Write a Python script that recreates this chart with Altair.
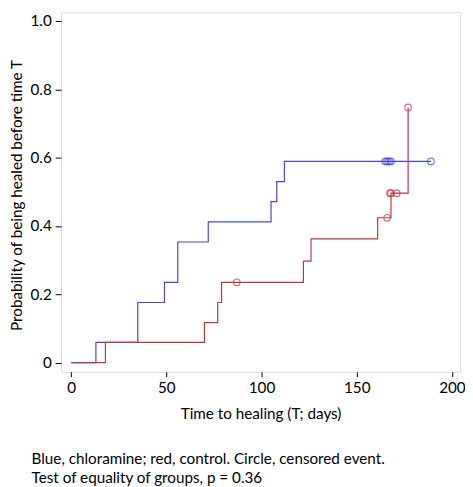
import altair as alt
import pandas as pd

# Kaplan-Meier style step data
blue_t = [0, 13, 35, 49, 56, 72, 105, 108, 112, 189]
blue_p = [0.0, 0.059, 0.176, 0.235, 0.353, 0.412, 0.471, 0.530, 0.589, 0.589]
red_t = [0, 18, 70, 77, 79, 122, 126, 161, 168, 177]
red_p = [0.0, 0.059, 0.117, 0.176, 0.235, 0.297, 0.362, 0.424, 0.496, 0.747]

# censored events (circles)
blue_c_t = [165, 166, 167, 168, 189]
blue_c_p = [0.589, 0.589, 0.589, 0.589, 0.589]
red_c_t = [87, 166, 167.5, 168, 171, 177]
red_c_p = [0.235, 0.424, 0.496, 0.496, 0.496, 0.747]

x_ticks = [0, 50, 100, 150, 200]
y_ticks = [0, 0.2, 0.4, 0.6, 0.8, 1.0]
caption = ["Blue, chloramine; red, control. Circle, censored event.",
           "Test of equality of groups, p = 0.36"]

groups = ["chloramine", "control"]
colors = ["#4646d8", "#c23640"]
FONT = "Lato"
FS = 15.5

steps = pd.DataFrame({
    "t": blue_t + red_t,
    "p": blue_p + red_p,
    "g": ["chloramine"] * len(blue_t) + ["control"] * len(red_t),
})
cens = pd.DataFrame({
    "t": blue_c_t + red_c_t,
    "p": blue_c_p + red_c_p,
    "g": ["chloramine"] * len(blue_c_t) + ["control"] * len(red_c_t),
})

xs = alt.Scale(domain=[-5.3, 204.3], nice=False, zero=False)
ys = alt.Scale(domain=[-0.027, 1.026], nice=False, zero=False)
cs = alt.Scale(domain=groups, range=colors)

xax = alt.Axis(values=x_ticks, title="Time to healing (T; days)", grid=False,
               domain=False, tickSize=5, tickColor="black", labelPadding=4,
               labelFont=FONT, labelFontSize=FS, labelColor="black",
               titleFont=FONT, titleFontSize=FS, titleFontWeight="normal",
               titleColor="black", titleBaseline="middle", titleY=43)
yax = alt.Axis(values=y_ticks, title="Probability of being healed before time T",
               grid=False, domain=False, tickSize=6, tickColor="black",
               labelPadding=4, labelExpr="datum.value == 0 ? '0' : format(datum.value, '.1f')",
               labelFont=FONT, labelFontSize=FS, labelColor="black",
               titleFont=FONT, titleFontSize=FS, titleFontWeight="normal",
               titleColor="black", titleBaseline="middle", titleX=-45, titleY=186)

lines = alt.Chart(steps).mark_line(interpolate="step-after", strokeWidth=1.2).encode(
    x=alt.X("t:Q", scale=xs, axis=xax),
    y=alt.Y("p:Q", scale=ys, axis=yax),
    color=alt.Color("g:N", scale=cs, legend=None),
    detail="g:N",
)
circles = alt.Chart(cens).mark_point(shape="circle", size=45, filled=False, strokeWidth=1.2).encode(
    x=alt.X("t:Q", scale=xs),
    y=alt.Y("p:Q", scale=ys),
    color=alt.Color("g:N", scale=cs, legend=None),
)

chart = alt.layer(lines, circles).properties(
    width=406, height=366,
    autosize=alt.AutoSizeParams(type="none"),
    padding={"left": 54, "top": 0, "right": 5, "bottom": 113},
    title=alt.TitleParams(text=caption, orient="bottom", anchor="start", frame="group",
                          dx=-30, offset=30, font=FONT, fontSize=FS, fontWeight="normal",
                          lineHeight=20, color="black"),
).configure_view(stroke="black", strokeWidth=1.2).configure(background="white")

chart.save("out.html", embed_options={"renderer": "svg", "actions": False})
